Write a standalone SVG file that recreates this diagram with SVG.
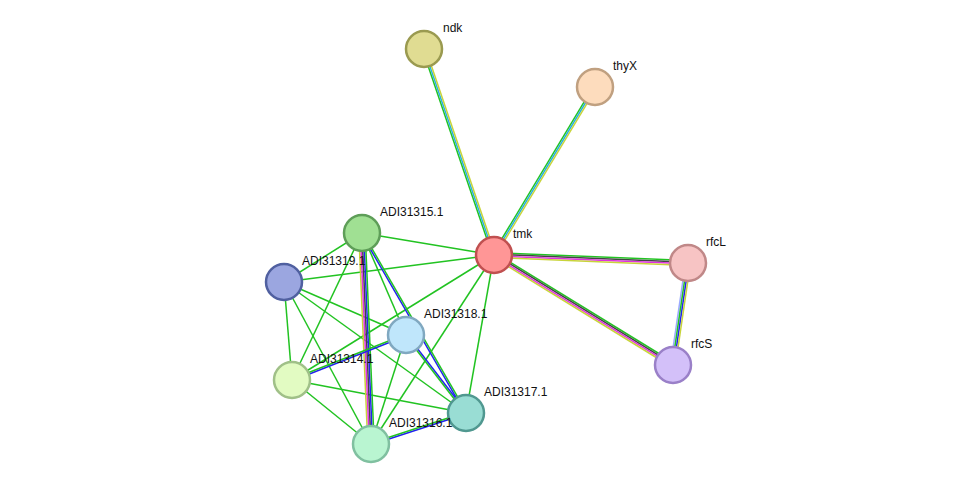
<svg xmlns="http://www.w3.org/2000/svg" width="976" height="490" viewBox="0 0 976 490">
<style>
line{stroke-width:1.5;fill:none}
.g{stroke:#22c322}.c{stroke:#2ab0e0}.y{stroke:#c8d43a}.k{stroke:#444}.m{stroke:#e030e0}.b{stroke:#2222ee}.lb{stroke:#9aa8ff}
circle{stroke-width:2.5}
text{font-family:"Liberation Sans",Arial,sans-serif;font-size:12px;fill:#111}
</style>
<rect width="976" height="490" fill="#fff"/>
<g id="edges">
<line class="g" x1="492.5" y1="255.5" x2="422.5" y2="49.5"/><line class="c" x1="494" y1="255" x2="424" y2="49"/><line class="y" x1="495.5" y1="254.5" x2="425.5" y2="48.5"/>
<line class="g" x1="492.6" y1="254.2" x2="593.6" y2="86.2"/><line class="c" x1="494" y1="255" x2="595" y2="87"/><line class="y" x1="495.4" y1="255.8" x2="596.4" y2="87.8"/>
<line class="g" x1="494" y1="252.6" x2="688" y2="260.6"/><line class="k" x1="494" y1="254.2" x2="688" y2="262.2"/><line class="m" x1="494" y1="255.8" x2="688" y2="263.8"/><line class="y" x1="494" y1="257.4" x2="688" y2="265.4"/>
<line class="g" x1="495.3" y1="253" x2="674.3" y2="363"/><line class="k" x1="494.4" y1="254.3" x2="673.4" y2="364.3"/><line class="m" x1="493.6" y1="255.7" x2="672.6" y2="365.7"/><line class="y" x1="492.7" y1="257" x2="671.7" y2="367"/>
<line class="lb" x1="685.6" y1="262.7" x2="670.6" y2="364.7"/><line class="g" x1="687.2" y1="262.9" x2="672.2" y2="364.9"/><line class="b" x1="688.8" y1="263.1" x2="673.8" y2="365.1"/><line class="y" x1="690.4" y1="263.4" x2="675.4" y2="365.4"/>
<g class="g">
<line x1="362" y1="233" x2="494" y2="255"/><line x1="362" y1="233" x2="284" y2="282"/><line x1="362" y1="233" x2="292" y2="380"/><line x1="362" y1="233" x2="406" y2="335"/>
<line x1="284" y1="282" x2="494" y2="255"/><line x1="284" y1="282" x2="406" y2="335"/><line x1="284" y1="282" x2="292" y2="380"/><line x1="284" y1="282" x2="371" y2="444"/><line x1="284" y1="282" x2="466" y2="413"/>
<line x1="494" y1="255" x2="292" y2="380"/><line x1="494" y1="255" x2="371" y2="444"/><line x1="494" y1="255" x2="466" y2="413"/>
<line x1="292" y1="380" x2="466" y2="413"/><line x1="292" y1="380" x2="371" y2="444"/><line x1="406" y1="335" x2="371" y2="444"/>
</g>
<line class="y" x1="358.8" y1="233" x2="367.8" y2="444"/><line class="m" x1="360.4" y1="233" x2="369.4" y2="444"/><line class="k" x1="362" y1="233" x2="371" y2="444"/><line class="b" x1="363.6" y1="233" x2="372.6" y2="444"/><line class="g" x1="365.2" y1="233" x2="374.2" y2="444"/>
<line class="b" x1="361.3" y1="233.4" x2="465.3" y2="413.4"/><line class="g" x1="362.7" y1="232.6" x2="466.7" y2="412.6"/>
<line class="b" x1="406.6" y1="334.5" x2="466.6" y2="412.5"/><line class="g" x1="405.4" y1="335.5" x2="465.4" y2="413.5"/>
<line class="b" x1="406.3" y1="335.7" x2="292.3" y2="380.7"/><line class="g" x1="405.7" y1="334.3" x2="291.7" y2="379.3"/>
<line class="b" x1="371.3" y1="444.8" x2="466.3" y2="413.8"/><line class="g" x1="370.7" y1="443.2" x2="465.7" y2="412.2"/>
</g>
<g id="ndk"><circle cx="424" cy="49" r="18" fill="#e0dc92" stroke="#9a9a50"/><text x="443" y="32">ndk</text></g>
<g id="thyX"><circle cx="595" cy="87" r="18" fill="#fddcbd" stroke="#c0a080"/><text x="613" y="70">thyX</text></g>
<g id="tmk"><circle cx="494" cy="255" r="18" fill="#ff9696" stroke="#c05050"/><text x="513" y="238">tmk</text></g>
<g id="rfcL"><circle cx="688" cy="263" r="18" fill="#f7c4c4" stroke="#c08888"/><text x="706" y="246">rfcL</text></g>
<g id="rfcS"><circle cx="673" cy="365" r="18" fill="#d3c0f9" stroke="#9a80c8"/><text x="691" y="348">rfcS</text></g>
<g id="ADI31315.1"><circle cx="362" cy="233" r="18" fill="#a0e093" stroke="#5e9e58"/><text x="380" y="216">ADI31315.1</text></g>
<g id="ADI31319.1"><circle cx="284" cy="282" r="18" fill="#9ba6e0" stroke="#5060a0"/><text x="302" y="265">ADI31319.1</text></g>
<g id="ADI31318.1"><circle cx="406" cy="335" r="18" fill="#bfe6fb" stroke="#80a8c0"/><text x="424" y="318">ADI31318.1</text></g>
<g id="ADI31314.1"><circle cx="292" cy="380" r="18" fill="#e2fbc2" stroke="#a0c088"/><text x="310" y="363">ADI31314.1</text></g>
<g id="ADI31317.1"><circle cx="466" cy="413" r="18" fill="#99ddd4" stroke="#509890"/><text x="484" y="396">ADI31317.1</text></g>
<g id="ADI31316.1"><circle cx="371" cy="444" r="18" fill="#b9f5d1" stroke="#80c0a0"/><text x="389" y="427">ADI31316.1</text></g>
</svg>
